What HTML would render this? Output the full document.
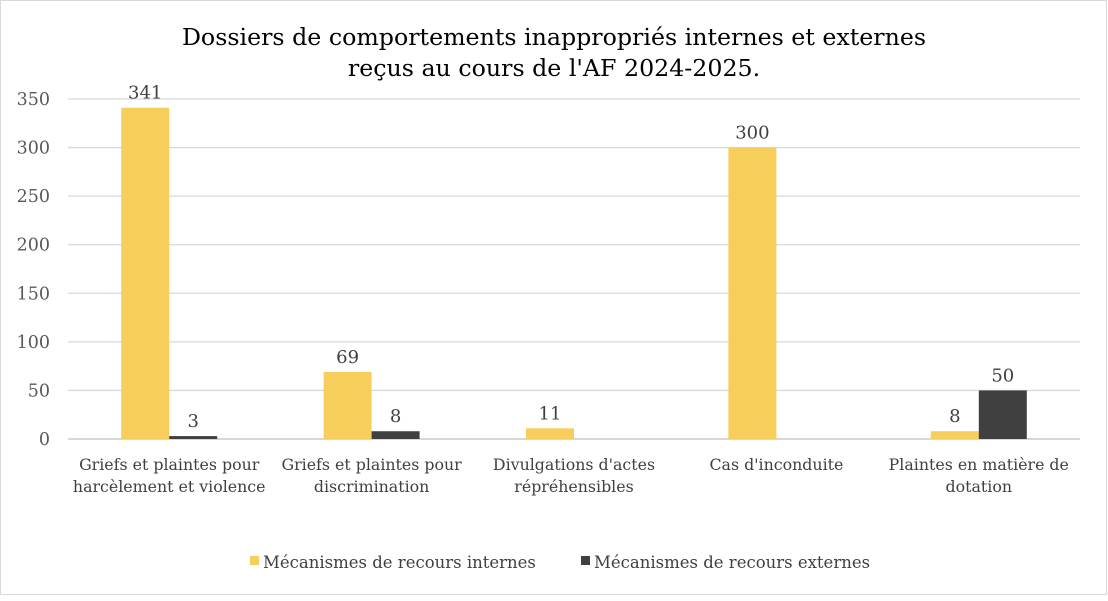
<!DOCTYPE html>
<html><head><meta charset="utf-8"><style>
body{margin:0;background:#fff;}
svg text{font-family:"DejaVu Serif","Liberation Serif",serif;}
</style></head><body>
<svg width="1108" height="596" xmlns="http://www.w3.org/2000/svg">
<rect x="0.5" y="0.5" width="1106" height="594" fill="#fff" stroke="#d9d9d9"/>
<text x="554" y="45" font-size="23.7" text-anchor="middle" fill="#000">Dossiers de comportements inappropriés internes et externes</text>
<text x="554" y="76" font-size="23.7" text-anchor="middle" fill="#000">reçus au cours de l'AF 2024-2025.</text>
<g id="grid"></g><g id="bars"></g><g id="labels"></g>
<g>
<rect x="250" y="556" width="9" height="9" fill="#F7CE5B"/>
<text x="263" y="568" font-size="16.5" fill="#404040">Mécanismes de recours internes</text>
<rect x="581" y="556" width="9" height="9" fill="#404040"/>
<text x="594" y="568" font-size="16.5" fill="#404040">Mécanismes de recours externes</text>
</g>
</svg>
<script>
const categories=[["Griefs et plaintes pour","harcèlement et violence"],["Griefs et plaintes pour","discrimination"],["Divulgations d'actes","répréhensibles"],["Cas d'inconduite"],["Plaintes en matière de","dotation"]];
const internes=[341,69,11,300,8];
const externes=[3,8,null,null,50];
const ticks=[0,50,100,150,200,250,300,350];
const NS="http://www.w3.org/2000/svg";
const x0=68,x1=1080,y0=439,yTop=99,vmax=350;
const y=v=>y0-(v/vmax)*(y0-yTop);
const cw=(x1-x0)/categories.length;
function mk(t,a,p){const e=document.createElementNS(NS,t);for(const k in a)e.setAttribute(k,a[k]);p.appendChild(e);return e;}
const G=document.getElementById('grid'),B=document.getElementById('bars'),L=document.getElementById('labels');
ticks.forEach(t=>{
 const l=mk('line',{x1:x0,x2:x1,y1:y(t),y2:y(t),stroke:t===0?'#bfbfbf':'#d9d9d9','stroke-width':1.3},G);
 
 
 const tx=mk('text',{x:50,y:y(t)+6,'font-size':17.5,'text-anchor':'end',fill:'#595959'},G);
 tx.textContent=t;
 
 
});
categories.forEach((c,i)=>{
 const cx=x0+cw*(i+0.5);
 [[internes[i],'#F7CE5B',cx-48,'internes'],[externes[i],'#404040',cx,'externes']].forEach(([v,col,bx,nm])=>{
  if(v==null)return;
  const r=mk('rect',{x:bx,y:y(v),width:48,height:y0-y(v),fill:col},B);
  
  
  const t=mk('text',{x:bx+24,y:y(v)-9,'font-size':18,'text-anchor':'middle',fill:'#404040'},L);
  t.textContent=v;
  
  
 });
 c.forEach((ln,j)=>{
  const t=mk('text',{x:cx,y:470+j*22,'font-size':15.8,'text-anchor':'middle',fill:'#404040'},L);
  t.textContent=ln;
  
  
 });
});
</script>
</body></html>
